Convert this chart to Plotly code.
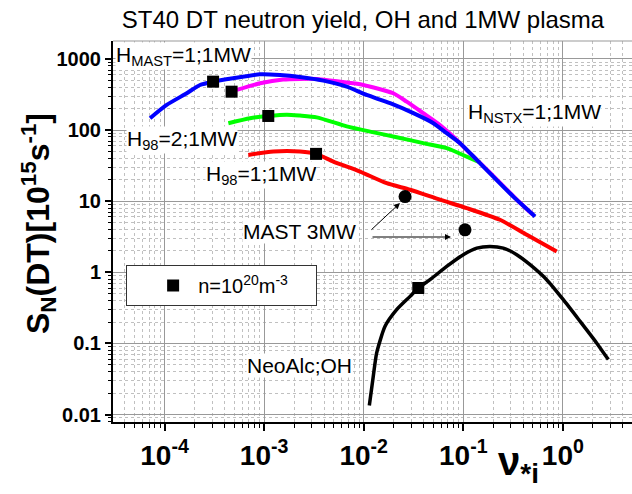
import plotly.graph_objects as go

# ---------------- data ----------------
blue_x = [7.15e-5, 1.05e-4, 1.67e-4, 2.27e-4, 3.07e-4, 4.87e-4, 9.1e-4, 1.44e-3, 2.29e-3,
          3.93e-3, 6.75e-3, 0.0107, 0.0184, 0.0315, 0.050, 0.0681, 0.0927, 0.1365, 0.200,
          0.318, 0.525]
blue_y = [147, 226, 330, 431, 480, 536, 610, 596, 559, 496, 408, 312, 239, 173, 125, 90.5,
          65.5, 38.1, 22.2, 11.6, 6.1]

magenta_x = [5.31e-4, 9.1e-4, 1.55e-3, 3.37e-3, 7.28e-3, 9.9e-3, 0.0198, 0.0270, 0.0396,
             0.0583, 0.0795, 0.108, 0.147, 0.234, 0.371, 0.501]
magenta_y = [367, 456, 515, 524, 460, 431, 330, 251, 173, 118, 81, 52.7, 34.6, 18.1, 9.5, 6.44]

green_x = [4.37e-4, 7.22e-4, 1.10e-3, 1.69e-3, 2.29e-3, 3.37e-3, 6.75e-3, 0.01156, 0.0214,
           0.0396, 0.0681, 0.108, 0.147]
green_y = [125, 147, 158, 165, 160, 151, 113, 95.3, 79.5, 65.5, 55.7, 42.4, 35.2]

red_x = [6.93e-4, 1.24e-3, 2.29e-3, 3.32e-3, 4.95e-3, 9.18e-3, 0.0170, 0.0292, 0.0583, 0.108,
         0.233, 0.434, 0.867]
red_y = [44.8, 49.9, 49.9, 46.3, 36.1, 26.1, 17.9, 14.5, 10.5, 8.0, 5.48, 3.37, 1.97]

black_x = [0.01138, 0.01247, 0.01349, 0.01637, 0.0214, 0.0292, 0.0353, 0.0463, 0.0681, 0.1,
           0.1365, 0.185, 0.252, 0.344, 0.468, 0.687, 1.01, 1.49, 2.18, 2.86]
black_y = [0.01337, 0.0345, 0.0736, 0.174, 0.298, 0.459, 0.602, 0.788, 1.21, 1.77, 2.19, 2.31,
           2.19, 1.77, 1.28, 0.788, 0.412, 0.204, 0.1016, 0.0592]

dens_x = [3.07e-4, 4.71e-4, 1.10e-3, 3.32e-3, 0.0353]
dens_y = [480, 347, 158, 46.3, 0.602]

mast_x = [0.026, 0.104]
mast_y = [11.6, 3.96]

x_tickvals = [1e-4, 1e-3, 1e-2, 1e-1, 1e0]
x_ticktext = ["10<sup>-4</sup>", "10<sup>-3</sup>", "10<sup>-2</sup>", "10<sup>-1</sup>", "10<sup>0</sup>"]
y_tickvals = [0.01, 0.1, 1, 10, 100, 1000]
y_ticktext = ["0.01", "0.1", "1", "10", "100", "1000"]

# minor tick positions (2..9 within each decade)
x_minor = [m * 10.0 ** e for e in range(-5, 1) for m in range(2, 10)]
y_minor = [m * 10.0 ** e for e in range(-3, 4) for m in range(2, 10)]

FONT = "Liberation Sans, Arial, sans-serif"

fig = go.Figure()
for xs, ys, col in [(red_x, red_y, "#ff0000"), (green_x, green_y, "#00ff00"),
                    (magenta_x, magenta_y, "#ff00ff"), (blue_x, blue_y, "#0000ff"),
                    (black_x, black_y, "#000000")]:
    fig.add_trace(go.Scatter(x=xs, y=ys, mode="lines", showlegend=False,
                             line=dict(color=col, width=4 if col != "#000000" else 3.5,
                                       shape="spline", smoothing=0.6)))

fig.add_trace(go.Scatter(x=mast_x, y=mast_y, mode="markers", showlegend=False,
                         marker=dict(symbol="circle", size=13, color="black")))
fig.add_trace(go.Scatter(x=dens_x, y=dens_y, mode="markers",
                         name="n=10<sup>20</sup>m<sup>-3</sup>\u00a0\u00a0\u00a0\u00a0",
                         marker=dict(symbol="square", size=12, color="black")))

# layout geometry
L, R, T, B = 113, 0, 41, 72
W, H = 632, 494
pw, ph = W - L - R, H - T - B


def px(xp):
    return (xp - L) / pw


def py(yp):
    return (H - B - yp) / ph


ann = []
lab_font = dict(family=FONT, size=21, color="black")
for txt, x0, y0 in [("H<sub>MAST</sub>=1;1MW", 115, 56),
                    ("H<sub>NSTX</sub>=1;1MW", 467, 113),
                    ("H<sub>98</sub>=2;1MW", 126, 140),
                    ("H<sub>98</sub>=1;1MW", 205, 175),
                    ("MAST 3MW", 242, 231),
                    ("NeoAlc;OH", 246, 365)]:
    ann.append(dict(text=txt, x=px(x0), y=py(y0), xref="paper", yref="paper",
                    xanchor="left", yanchor="middle", showarrow=False,
                    font=lab_font, bgcolor="white", borderpad=0))

# arrows from "MAST 3MW"
for hx, hy, tx, ty in [(400, 203, 370, 231), (451, 237, 371, 237)]:
    ann.append(dict(text="", x=px(hx), y=py(hy), xref="paper", yref="paper",
                    ax=tx - hx, ay=ty - hy, showarrow=True, arrowhead=2, arrowsize=1.2,
                    arrowwidth=1, arrowcolor="black", standoff=0))

# axis titles
ann.append(dict(text="S<sub>N</sub>(DT)[10<sup>15</sup>s<sup>-1</sup>]", textangle=-90,
                x=px(38), y=py(224), xref="paper", yref="paper", showarrow=False,
                xanchor="center", yanchor="middle",
                font=dict(family=FONT, size=32, color="black", weight="bold")))
ann.append(dict(text="ν<sub>*i</sub>", x=px(518), y=py(464), xref="paper", yref="paper",
                showarrow=False, xanchor="center", yanchor="middle",
                font=dict(family=FONT, size=40, color="black", weight="bold")))

grid_major = "#999999"
grid_minor = "#c0c0c0"

fig.update_layout(
    width=W, height=H,
    margin=dict(l=L, r=R, t=T, b=B, autoexpand=False),
    paper_bgcolor="white", plot_bgcolor="white",
    font=dict(family=FONT, color="black"),
    title=dict(text="ST40 DT neutron yield, OH and 1MW plasma", x=363 / W, xref="container",
               xanchor="center", y=1 - 20 / H, yref="container", yanchor="middle",
               automargin=False,
               font=dict(family=FONT, size=24, color="black")),
    annotations=ann,
    legend=dict(x=px(126), y=py(265), xanchor="left", yanchor="top",
                bgcolor="white", bordercolor="#333333", borderwidth=1,
                itemwidth=40,
                title=dict(text="\u00a0\u00a0", side="left",
                           font=dict(family=FONT, size=20)),
                font=dict(family=FONT, size=20, color="black")),
    shapes=[dict(type="line", xref="paper", yref="paper", x0=0, x1=1, y0=1, y1=1,
                 line=dict(color=grid_major, width=1))],
)

fig.update_xaxes(type="log", range=[-4.518, 0.694], tickmode="array", automargin=False,
                 tickvals=x_tickvals, ticktext=x_ticktext,
                 showline=True, linecolor="black", linewidth=2, ticks="outside", ticklen=7,
                 tickwidth=1.5, tickcolor="black", showgrid=True, gridcolor=grid_major,
                 gridwidth=1, zeroline=False,
                 tickfont=dict(family=FONT, size=28, color="black", weight="bold"),
                 minor=dict(tickmode="array", tickvals=x_minor, ticks="outside", ticklen=4,
                            tickcolor="black", tickwidth=1,
                            showgrid=True, gridcolor=grid_minor, griddash="dot", gridwidth=1))
fig.update_yaxes(type="log", range=[-2.105, 3.253], tickmode="array", automargin=False,
                 tickvals=y_tickvals, ticktext=y_ticktext,
                 showline=True, linecolor="black", linewidth=2, ticks="outside", ticklen=6,
                 tickwidth=1.5, tickcolor="black", showgrid=True, gridcolor=grid_major,
                 gridwidth=1, zeroline=False,
                 tickfont=dict(family=FONT, size=20, color="black", weight="bold"),
                 minor=dict(tickmode="array", tickvals=y_minor, ticks="outside", ticklen=3,
                            tickcolor="black", tickwidth=1,
                            showgrid=True, gridcolor=grid_minor, griddash="dot", gridwidth=1))

fig.write_html("out.html", config={"displayModeBar": False},
               post_script="document.body.style.margin='0px';")
